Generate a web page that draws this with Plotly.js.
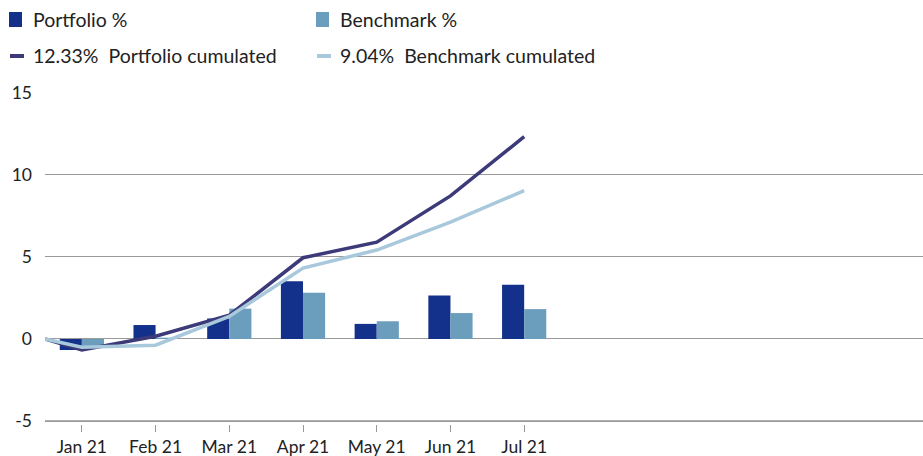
<!DOCTYPE html>
<html>
<head>
<meta charset="utf-8">
<script src="https://cdn.plot.ly/plotly-3.0.1.min.js"></script>
<style>html,body{margin:0;padding:0;background:#fff;}#chart{width:923px;height:456px;}</style>
</head>
<body>
<div id="chart"></div>
<script>
// Data
const months = ["Jan 21", "Feb 21", "Mar 21", "Apr 21", "May 21", "Jun 21", "Jul 21"];
const portfolioPct = [-0.67, 0.85, 1.25, 3.52, 0.92, 2.65, 3.30];
const benchmarkPct = [-0.50, 0.08, 1.85, 2.82, 1.08, 1.58, 1.82];
// cumulated series start at 0 at the beginning of the period
const portfolioCum = [0, -0.67, 0.17, 1.45, 4.95, 5.90, 8.72, 12.33];
const benchmarkCum = [0, -0.50, -0.38, 1.38, 4.32, 5.42, 7.12, 9.04];
const yTicks = [-5, 0, 5, 10, 15];
const yTickText = ["-5", "0", "5", "10", "15"];
const nSlots = 12; // Jan–Dec slots on the axis

const idx = months.map((_, i) => i);
const cumX = [-0.5].concat(idx);

const cPort = "#13318a", cBench = "#6b9dbd", cPortCum = "#3c3a78", cBenchCum = "#a8c8dc";
const font = "Lato, 'Open Sans', sans-serif";

const traces = [
  {type: "bar", name: "Portfolio %", x: idx, y: portfolioPct, marker: {color: cPort}},
  {type: "bar", name: "Benchmark %", x: idx, y: benchmarkPct, marker: {color: cBench}},
  {type: "scatter", mode: "lines", name: "Portfolio cumulated", x: cumX, y: portfolioCum,
   line: {color: cPortCum, width: 3.5}},
  {type: "scatter", mode: "lines", name: "Benchmark cumulated", x: cumX, y: benchmarkCum,
   line: {color: cBenchCum, width: 3.5}}
];

const W = 923, H = 456, M = {l: 45, r: 0, t: 92, b: 32};
const PW = W - M.l - M.r, PH = H - M.t - M.b;
const px = x => (x - M.l) / PW, py = y => (H - M.b - y) / PH;

const fmt = v => v.toFixed(2) + "%";
const legendItems = [
  {txt: "Portfolio %", x: 33, y: 20, kind: "sq", color: cPort},
  {txt: "Benchmark %", x: 340, y: 20, kind: "sq", color: cBench},
  {txt: fmt(portfolioCum[portfolioCum.length - 1]) + "  Portfolio cumulated", x: 33, y: 56, kind: "ln", color: cPortCum},
  {txt: fmt(benchmarkCum[benchmarkCum.length - 1]) + "  Benchmark cumulated", x: 340, y: 56, kind: "ln", color: cBenchCum}
];
const annotations = legendItems.map(it => ({
  xref: "paper", yref: "paper", x: px(it.x), y: py(it.y), xanchor: "left", yanchor: "middle",
  xshift: -2, text: it.txt, showarrow: false, font: {family: font, size: 19.5, color: "#222"}
}));
const shapes = legendItems.map(it => it.kind === "sq" ?
  {type: "rect", xref: "paper", yref: "paper", x0: px(it.x - 24), x1: px(it.x - 11), y0: py(it.y + 7), y1: py(it.y - 8),
   fillcolor: it.color, line: {width: 0}} :
  {type: "line", xref: "paper", yref: "paper", x0: px(it.x - 23), x1: px(it.x - 9), y0: py(it.y), y1: py(it.y),
   line: {color: it.color, width: 4}});
// bottom reference line at the lowest y tick
shapes.push({type: "line", layer: "above", xref: "paper", yref: "paper", x0: 0, x1: 1,
  y0: py(421), y1: py(421), line: {color: "#999", width: 1.5}});

const layout = {
  width: W, height: H,
  margin: M,
  paper_bgcolor: "#fff", plot_bgcolor: "#fff",
  barmode: "group", bargap: 0.4, bargroupgap: 0,
  showlegend: false,
  font: {family: font, size: 17, color: "#222"},
  xaxis: {
    range: [-0.5, nSlots - 0.59],
    tickmode: "array", tickvals: idx, ticktext: months,
    showgrid: false, zeroline: false, showline: false,
    ticks: "outside", ticklen: 7, tickcolor: "#999", tickwidth: 1,
    tickfont: {family: font, size: 17.5, color: "#222"}
  },
  yaxis: {
    range: [-5.18, 15.05], tickmode: "array", tickvals: yTicks, ticktext: yTickText,
    showgrid: true, gridcolor: "#999", gridwidth: 1,
    zeroline: false, showline: false, ticks: "",
    ticklabelstandoff: 12,
    tickfont: {family: font, size: 17.5, color: "#222"}
  },
  annotations: annotations,
  shapes: shapes
};

Plotly.newPlot("chart", traces, layout, {displayModeBar: false, staticPlot: true});
</script>
</body>
</html>
